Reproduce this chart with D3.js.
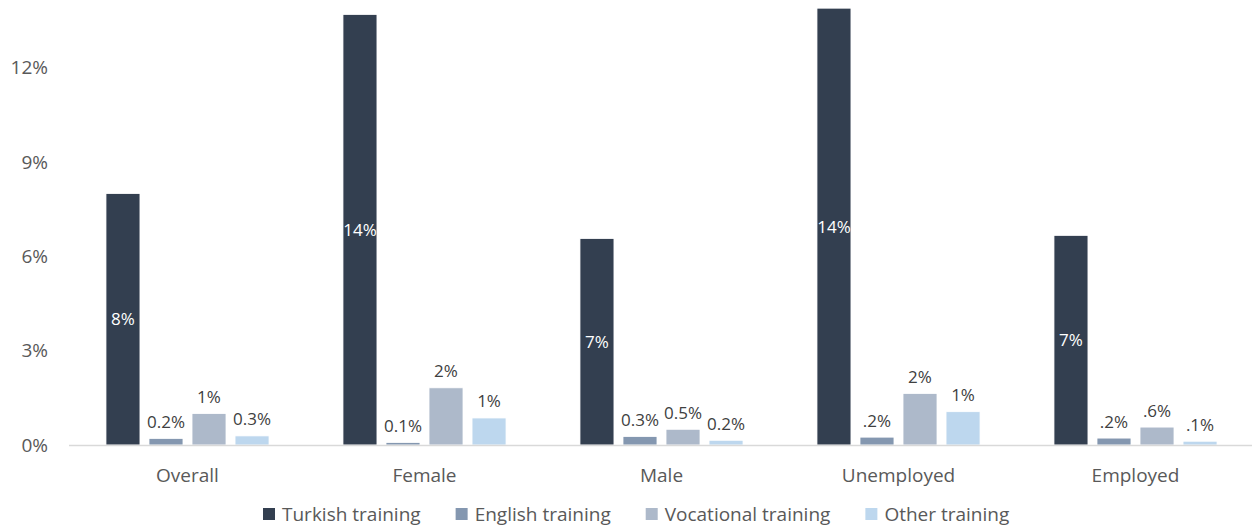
<!DOCTYPE html>
<html>
<head>
<meta charset="utf-8">
<script src="https://cdn.jsdelivr.net/npm/d3@7"></script>
<style>
	body { margin: 0; background: #fff; }
	svg text { font-family: "Open Sans", sans-serif; }
</style>
</head>
<body>
<svg id="chart" width="1254" height="529"></svg>
<script>
// categories and series
var categories = ["Overall", "Female", "Male", "Unemployed", "Employed"];
var seriesNames = ["Turkish training", "English training", "Vocational training", "Other training"];
var colorset = ["#333f50", "#8497b0", "#adb9ca", "#bdd7ee"];

// values in %, per series (same order as categories)
var turkish = [8.0, 13.7, 6.57, 13.9, 6.67];
var english = [0.21, 0.08, 0.27, 0.25, 0.22];
var vocational = [1.0, 1.82, 0.5, 1.64, 0.57];
var other = [0.29, 0.86, 0.15, 1.06, 0.12];

// data labels as printed
var turkishLabels = ["8%", "14%", "7%", "14%", "7%"];
var englishLabels = ["0.2%", "0.1%", "0.3%", ".2%", ".2%"];
var vocationalLabels = ["1%", "2%", "0.5%", "2%", ".6%"];
var otherLabels = ["0.3%", "1%", "0.2%", "1%", ".1%"];

var yTicks = [0, 3, 6, 9, 12];

var seriesValues = [turkish, english, vocational, other];
var seriesLabels = [turkishLabels, englishLabels, vocationalLabels, otherLabels];

var svg = d3.select("#chart");
var margin = { left: 69, right: 0, top: 0, bottom: 84 };
var width = 1254, height = 529;
var baseY = height - margin.bottom;

var x0 = d3.scaleBand()
	.domain(categories)
	.range([margin.left, width - margin.right])
	.paddingInner(0.312)
	.paddingOuter(0.156);

var x1 = d3.scaleBand()
	.domain(d3.range(seriesNames.length))
	.range([0, x0.bandwidth()])
	.paddingInner(0.21)
	.paddingOuter(0);

var y = d3.scaleLinear()
	.domain([0, 14.16])
	.range([baseY, 0]);

// y axis (labels only)
var yAxis = svg.append("g")
	.attr("transform", "translate(" + margin.left + ",0)")
	.call(d3.axisLeft(y).tickValues(yTicks).tickSize(0).tickPadding(21)
		.tickFormat(function(d) { return d + "%"; }));
yAxis.select(".domain").remove();
yAxis.selectAll("text")
	.attr("fill", "#595959")
	.style("font-size", "19px")
	.style("font-family", "'Open Sans', sans-serif");

// bars
var rows = [];
categories.forEach(function(c, i) {
	seriesValues.forEach(function(s, j) {
		rows.push({ cat: c, s: j, v: s[i], label: seriesLabels[j][i] });
	});
});

var content = svg.append("g").attr("class", "content");

content.selectAll("rect")
	.data(rows)
	.enter()
	.append("rect")
	.attr("x", function(d) { return x0(d.cat) + x1(d.s); })
	.attr("width", x1.bandwidth())
	.attr("y", function(d) { return y(d.v); })
	.attr("height", function(d) { return baseY - y(d.v); })
	.attr("fill", function(d) { return colorset[d.s]; })
	.attr("stroke", "#fff")
	.attr("stroke-width", 0.8);

// x axis line
svg.append("line")
	.attr("x1", margin.left)
	.attr("x2", width - 2)
	.attr("y1", baseY + 0.5)
	.attr("y2", baseY + 0.5)
	.attr("stroke", "#d9d9d9")
	.attr("stroke-width", 1.5);

// data labels
content.selectAll("text.lbl")
	.data(rows)
	.enter()
	.append("text")
	.attr("class", "lbl")
	.attr("x", function(d) { return x0(d.cat) + x1(d.s) + x1.bandwidth() / 2; })
	.attr("y", function(d) {
		if (d.s === 0) return (y(d.v) + baseY) / 2;
		return y(d.v) - 16.5;
	})
	.attr("dy", "0.35em")
	.attr("text-anchor", "middle")
	.attr("fill", function(d) { return d.s === 0 ? "#ffffff" : "#404040"; })
	.style("font-size", "17px")
	.text(function(d) { return d.label; });

// category labels
svg.selectAll("text.cat")
	.data(categories)
	.enter()
	.append("text")
	.attr("class", "cat")
	.attr("x", function(d) { return x0(d) + x0.bandwidth() / 2; })
	.attr("y", 475)
	.attr("dy", "0.35em")
	.attr("text-anchor", "middle")
	.attr("fill", "#595959")
	.style("font-size", "19px")
	.text(function(d) { return d; });

// legend
var legend = svg.append("g").attr("class", "legend");
var lx = 263;
seriesNames.forEach(function(name, i) {
	var item = legend.append("g");
	item.append("rect")
		.attr("x", lx)
		.attr("y", 508)
		.attr("width", 12)
		.attr("height", 12)
		.attr("fill", colorset[i]);
	var t = item.append("text")
		.attr("x", lx + 19)
		.attr("y", 514)
		.attr("dy", "0.35em")
		.attr("fill", "#595959")
		.style("font-size", "19px")
		.text(name);
	lx = lx + 19 + t.node().getComputedTextLength() + 35;
});
</script>
</body>
</html>
